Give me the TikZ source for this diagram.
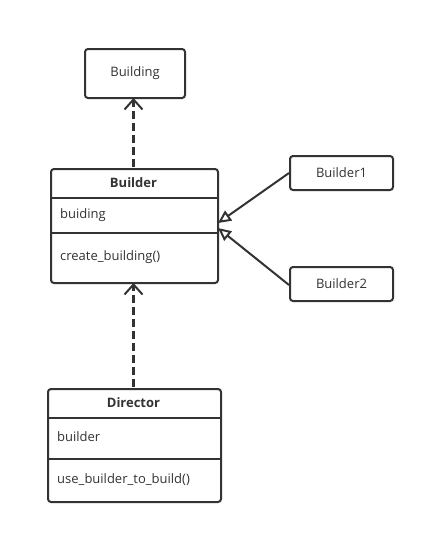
\documentclass[tikz,border=0pt]{standalone}
\usepackage{fontspec}
\setmainfont{Open Sans}
\usetikzlibrary{arrows.meta}
\definecolor{ink}{HTML}{333333}
\begin{document}
\begin{tikzpicture}[x=1pt,y=-1pt,
  box/.style={draw=ink,line width=2pt,rounded corners=3pt,inner sep=0pt,anchor=north west},
  lbl/.style={text=ink,font=\fontsize{13}{15}\selectfont,inner sep=0pt},
  title/.style={lbl,font=\fontsize{13}{15}\selectfont\bfseries},
  divider/.style={draw=ink,line width=2pt},
  dep/.style={draw=ink,line width=2.2pt,dash pattern=on 8pt off 4pt,-{Straight Barb[length=10pt,width=18pt,line width=2pt]}},
  gen/.style={draw=ink,line width=2pt,-{Triangle[open,length=13pt,width=12pt,line width=2pt]}}]
\useasboundingbox (0,0) rectangle (423,533);
\fill[white] (0,0) rectangle (423,533);
% Building
\node[box,minimum width=100pt,minimum height=49pt] (building) at (84,48) {};
\node[lbl] (buildingt) at (building.center) {Building};
% Builder
\node[box,minimum width=167pt,minimum height=114pt] (builder) at (50,168) {};
\node[title] (buildert) at (133.5,183) {Builder};
\coordinate (bd1l) at (50,198); \coordinate (bd1r) at (217,198);
\coordinate (bd2l) at (50,233); \coordinate (bd2r) at (217,233);
\draw[divider] (bd1l) -- (bd1r);
\draw[divider] (bd2l) -- (bd2r);
\node[lbl,anchor=west] (builderf) at (60,215.5) {buiding};
\node[lbl,anchor=west] (builderm) at (60,257.5) {create\_building()};
% Builder1, Builder2
\node[box,minimum width=103pt,minimum height=34pt] (b1) at (289,155) {};
\node[lbl] (b1t) at (b1.center) {Builder1};
\node[box,minimum width=103pt,minimum height=34pt] (b2) at (289,266) {};
\node[lbl] (b2t) at (b2.center) {Builder2};
% Director
\node[box,minimum width=173pt,minimum height=113pt] (director) at (47,388) {};
\node[title] (directort) at (133.5,403) {Director};
\coordinate (dd1l) at (47,418); \coordinate (dd1r) at (220,418);
\coordinate (dd2l) at (47,459); \coordinate (dd2r) at (220,459);
\draw[divider] (dd1l) -- (dd1r);
\draw[divider] (dd2l) -- (dd2r);
\node[lbl,anchor=west] (directorf) at (57,437) {builder};
\node[lbl,anchor=west] (directorm) at (57,480) {use\_builder\_to\_build()};
% connectors
\coordinate (buildertop) at (133.5,167);
\coordinate (buildingbot) at (133.5,98);
\draw[dep] (buildertop) -- (buildingbot);
\coordinate (directortop) at (133.5,387);
\coordinate (builderbot) at (133.5,283);
\draw[dep] (directortop) -- (builderbot);
\coordinate (g1) at (218,223);
\coordinate (g2) at (218,228);
\draw[gen] (b1.west) -- (g1);
\draw[gen] ([yshift=-1pt]b2.west) -- (g2);
\end{tikzpicture}
\end{document}
